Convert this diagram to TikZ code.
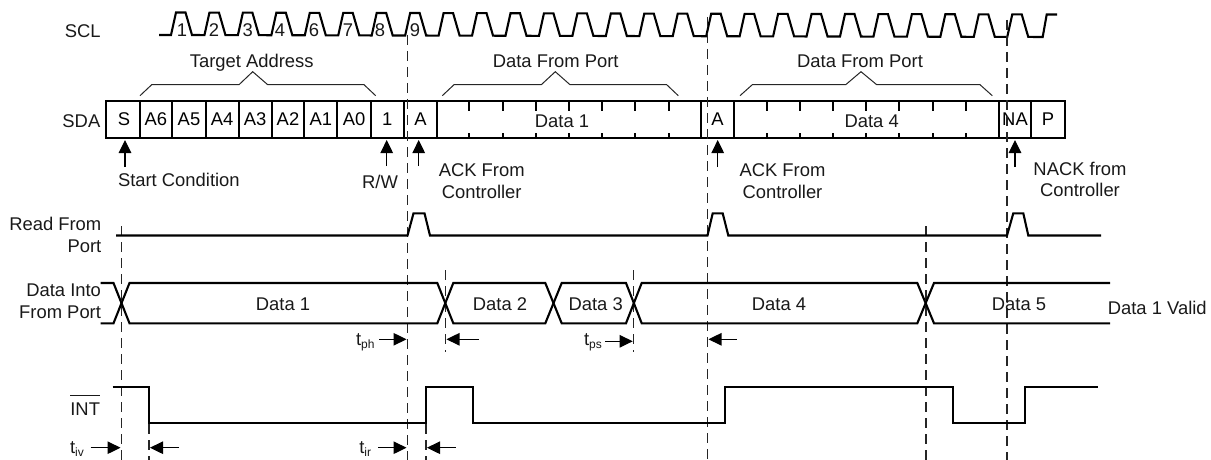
\documentclass[tikz,border=0pt]{standalone}
\usepackage{fontspec}
\setmainfont{Liberation Sans}
\usetikzlibrary{arrows.meta}
\tikzset{
  txt/.style={inner sep=0pt,outer sep=0pt,font=\fontsize{18.4}{22}\selectfont,text=black!90},
  lab/.style={txt,anchor=base},
  labr/.style={txt,anchor=base east},
  labl/.style={txt,anchor=base west},
  cell/.style={draw,line width=2pt,minimum height=36.5pt,inner sep=0pt,text height=13pt,text depth=0pt,font=\fontsize{18.4}{22}\selectfont},
  wave/.style={line width=2.1pt,line join=miter},
  tick/.style={line width=1.8pt},
  brace/.style={line width=1pt,black!85},
  guide/.style={line width=1.3pt,dash pattern=on 10pt off 6pt,black!85},
  uparrow/.style={line width=1.2pt,-{Triangle[length=13pt,width=12.5pt]},shorten >=1.5pt},
  tarrow/.style={line width=1.2pt,-{Triangle[length=13pt,width=12.5pt]},shorten >=1pt}
}
\newcommand{\sdacell}[4]{%
  \pgfmathsetmacro{\cw}{#2-#1}\pgfmathsetmacro{\cx}{(#1+#2)/2}%
  \node[cell,minimum width=\cw pt] (#3) at (\cx,119.25) {#4};}
\newcommand{\tname}[1]{t\raisebox{-3.5pt}{\fontsize{12}{12}\selectfont #1}}
\begin{document}
\begin{tikzpicture}[x=1pt,y=-1pt]
\useasboundingbox (0,0) rectangle (1211,460);
% SCL
\draw[wave] (159,35) foreach \k in {0,...,25} {
  -- ({171+33.45*\k},{35+.077*\k})
  -- ({176+33.45*\k},{12.5+.077*\k})
  -- ({185.5+33.45*\k},{12.5+.077*\k})
  -- ({192+33.45*\k},{35+.077*\k}) }
  -- (1042.7,37) -- (1046.7,14.5) -- (1057,14.5);
\node[labr] (scl) at (100.7,38) {SCL};
\foreach \n/\x/\lbl in {c1/182/1,c2/214/2,c3/247.7/3,c4/280/4,c6/314/6,c7/348/7,c8/380/8,c9/415/9}
  \node[lab] (\n) at (\x,36.7) {\lbl};
% SDA cells
\node[labr] (sda) at (100.3,128) {SDA};
\sdacell{106}{139.5}{S}{\hspace*{2.5pt}S}
\sdacell{139.5}{172.3}{A6}{A6}
\sdacell{172.3}{205.7}{A5}{A5}
\sdacell{205.7}{238.7}{A4}{A4}
\sdacell{238.7}{271.7}{A3}{A3}
\sdacell{271.7}{304.3}{A2}{A2}
\sdacell{304.3}{337.3}{A1}{A1}
\sdacell{337.3}{370.7}{A0}{A0}
\sdacell{370.7}{404}{RW}{1}
\sdacell{404}{437}{ack1}{A}
\sdacell{437}{701}{data1}{}
\sdacell{701}{734}{ack2}{A}
\sdacell{734}{999}{data4}{}
\sdacell{999}{1031}{nack}{NA}
\sdacell{1031}{1065}{P}{P}
\node[lab] (d1txt) at (562,127) {Data 1};
\node[lab] (d4txt) at (871.7,127) {Data 4};
\foreach \x in {469.3,502.7,536,569.3,602,635.3,668.7,767.3,800,833.3,866,899.3,932.7,966}{
  \draw[tick] (\x,101) -- (\x,111);
  \draw[tick] (\x,133) -- (\x,137.5);
}
% braces
\draw[brace] (140,95.7) -- (151.7,84.7) -- (239,84.7) -- (252.7,71.7) -- (267.7,84.7) -- (364,84.7) -- (375.7,95.7);
\draw[brace] (442.3,95.7) -- (454,84.7) -- (541.3,84.7) -- (555.3,71.7) -- (570,84.7) -- (666.7,84.7) -- (678.3,95.7);
\draw[brace] (740,95.7) -- (752.3,84.7) -- (845.7,84.7) -- (861,71.7) -- (876.7,84.7) -- (980,84.7) -- (992.3,95.7);
\node[lab] (ta) at (251.7,68) {Target Address};
\node[lab] (dfp1) at (555.7,68) {Data From Port};
\node[lab] (dfp2) at (860,68) {Data From Port};
% guides
\coordinate (g1t) at (407.5,35);   \coordinate (g1b) at (407.5,460);
\coordinate (g2t) at (707.5,17);   \coordinate (g2b) at (707.5,460);
\coordinate (g3t) at (1007,20);    \coordinate (g3b) at (1007,460);
\coordinate (g4t) at (121.5,226);  \coordinate (g4b) at (121.5,460);
\coordinate (g5t) at (926,226);    \coordinate (g5b) at (926,460);
\coordinate (g6t) at (445.5,270);  \coordinate (g6b) at (445.5,352);
\coordinate (g7t) at (633.7,270);  \coordinate (g7b) at (633.7,352);
\coordinate (g8t) at (149,424);    \coordinate (g8b) at (149,460);
\coordinate (g9t) at (426,424);    \coordinate (g9b) at (426,460);
\draw[guide,line width=1.6pt] (g1t) -- (g1b);
\foreach \g in {2,3,4,5,6,7,8,9} \draw[guide] (g\g t) -- (g\g b);
% SDA arrows and labels
\coordinate (ua1) at (125,167);
\coordinate (ua2) at (386.7,166);
\coordinate (ua3) at (418.7,166);
\coordinate (ua4) at (717.7,167);
\coordinate (ua5) at (1015,167);
\draw[uparrow] (ua1) -- (ua1 |- S.south);
\draw[uparrow] (ua2) -- (ua2 |- RW.south);
\draw[uparrow] (ua3) -- (ua3 |- ack1.south);
\draw[uparrow] (ua4) -- (ua4 |- ack2.south);
\draw[uparrow] (ua5) -- (ua5 |- nack.south);
\node[labl] (sc) at (118,186.7) {Start Condition};
\node[lab] (rwl) at (380,188) {R/W};
\node[lab] (ackA) at (481.7,176.7) {ACK From};
\node[lab] (ackB) at (481.7,198.3) {Controller};
\node[lab] (ackC) at (782.5,176.7) {ACK From};
\node[lab] (ackD) at (782.5,198.3) {Controller};
\node[lab] (nackA) at (1080,175) {NACK from};
\node[lab] (nackB) at (1080,196.7) {Controller};
% Read From Port
\node[labr] (rfp1) at (101.3,230.7) {Read From};
\node[labr] (rfp2) at (101.3,252.7) {Port};
\draw[wave] (116,235.5) -- (407.5,235.5) -- (413.5,213.3) -- (424.5,213.3) -- (430,235.5)
  -- (707.5,235.5) -- (712.7,213.3) -- (722.7,213.3) -- (728.3,235.5)
  -- (1007,235.5) -- (1013.3,213.3) -- (1023.3,213.3) -- (1028.3,235.5) -- (1101,235.5);
% Data lines
\node[labr] (di1) at (101,296.7) {Data Into};
\node[labr] (di2) at (101,318.7) {From Port};
\draw[wave] (100.7,283) -- (113.5,283) -- (129.5,323.3) -- (437.3,323.3) -- (453.3,283) -- (545.3,283)
  -- (561.7,323.3) -- (626,323.3) -- (641.7,283) -- (917.3,283) -- (934,323.3) -- (1110,323.3);
\draw[wave] (100.7,323.3) -- (113.5,323.3) -- (129.5,283) -- (437.3,283) -- (453.3,323.3) -- (545.3,323.3)
  -- (561.7,283) -- (626,283) -- (641.7,323.3) -- (917.3,323.3) -- (934,283) -- (1110,283);
\node[lab] (w1) at (283,310) {Data 1};
\node[lab] (w2) at (500,310) {Data 2};
\node[lab] (w3) at (595.7,310) {Data 3};
\node[lab] (w4) at (779,310) {Data 4};
\node[lab] (w5) at (1019,310) {Data 5};
\node[labr] (valid) at (1206.7,314) {Data 1 Valid};
% INT
\node[labr] (int) at (100,415.7) {\makebox[0pt][l]{\raisebox{19.5pt}{\rule{29.5pt}{1.7pt}}}INT};
\draw[wave] (112.7,387.3) -- (149,387.3) -- (149,423.3) -- (426,423.3) -- (426,387.3) -- (473,387.3)
  -- (473,423.3) -- (725,423.3) -- (725,387.3) -- (953.3,387.3) -- (953.3,423.3) -- (1025.3,423.3)
  -- (1025.3,387.3) -- (1097.7,387.3);
% timing labels
\node[labl] (tiv) at (70,453) {\tname{iv}};
\node[labl] (tir) at (359.3,453) {\tname{ir}};
\node[labl] (tph) at (356,345) {\tname{ph}};
\node[labl] (tps) at (584,345) {\tname{ps}};
% timing arrows
\coordinate (ta1) at (90.7,447.7);
\coordinate (ta2) at (179,447.7);
\coordinate (ta3) at (378.3,447.7);
\coordinate (ta4) at (455.7,447.7);
\coordinate (ta5) at (379,339.3);
\coordinate (ta6) at (479,339.3);
\coordinate (ta7) at (605,341.3);
\coordinate (ta8) at (736.7,339.3);
\draw[tarrow] (ta1) -- (ta1 -| g4t);
\draw[tarrow] (ta2) -- (ta2 -| g8t);
\draw[tarrow] (ta3) -- (ta3 -| g1t);
\draw[tarrow] (ta4) -- (ta4 -| g9t);
\draw[tarrow] (ta5) -- (ta5 -| g1t);
\draw[tarrow] (ta6) -- (ta6 -| g6t);
\draw[tarrow] (ta7) -- (ta7 -| g7t);
\draw[tarrow] (ta8) -- (ta8 -| g2t);
\end{tikzpicture}
\end{document}
